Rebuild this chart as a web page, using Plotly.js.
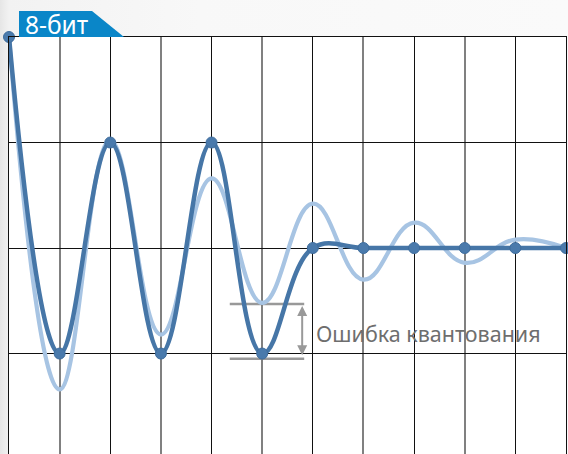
<!DOCTYPE html>
<html>
<head>
<meta charset="utf-8">
<script src="https://cdn.plot.ly/plotly-3.0.1.min.js"></script>
<style>
html,body{margin:0;padding:0;}
body{width:568px;height:454px;overflow:hidden;background:linear-gradient(to right,#e6e6e6 0px,#f2f2f2 9px,#f8f8f8 200px,#fafafa 568px);}
#chart{width:568px;height:454px;}
</style>
</head>
<body>
<div id="chart"></div>
<script>
// sample indices
var samples = [0, 1, 2, 3, 4, 5, 6, 7, 8, 9, 10, 11];
// quantized (8-bit) values
var quantized = [1.0, -0.5, 0.5, -0.5, 0.5, -0.5, 0, 0, 0, 0, 0, 0];
// original analog signal (extrema)
var analogX = [0, 1, 2, 3, 4, 5, 6, 7, 8, 9, 10, 11];
var analog = [1.0, -0.67, 0.51, -0.41, 0.33, -0.26, 0.21, -0.15, 0.12, -0.07, 0.04, 0.0];
var titleText = "8-бит";
var errorLabel = "Ошибка квантования";

var traces = [
  {x: analogX, y: analog, type: 'scatter', mode: 'lines',
   line: {shape: 'spline', smoothing: 1.2, color: '#a7c4e3', width: 4.2},
   cliponaxis: false, hoverinfo: 'skip'},
  {x: samples, y: quantized, type: 'scatter', mode: 'lines+markers',
   line: {shape: 'spline', smoothing: 1.15, color: '#4676a7', width: 4.5},
   marker: {size: 11, color: '#4a7aac', line: {color: '#3f6d9d', width: 1}},
   cliponaxis: false, hoverinfo: 'skip'}
];

var layout = {
  width: 568, height: 454,
  margin: {l: 9, r: 2, t: 37, b: 0, autoexpand: false},
  paper_bgcolor: 'rgba(0,0,0,0)',
  plot_bgcolor: '#ffffff',
  showlegend: false,
  font: {family: 'Noto Sans, Open Sans, sans-serif'},
  xaxis: {range: [0, 11], dtick: 2, tick0: 0, showgrid: true, gridcolor: '#111111', gridwidth: 1,
          minor: {dtick: 1, showgrid: true, gridcolor: '#808080', gridwidth: 2},
          showticklabels: false, ticks: '', zeroline: false,
          showline: true, linecolor: '#111111', linewidth: 1, mirror: true, fixedrange: true},
  yaxis: {range: [-0.976, 1.0], dtick: 0.5, tick0: 0, showgrid: true, gridcolor: '#111111', gridwidth: 1,
          showticklabels: false, ticks: '', zeroline: false,
          showline: true, linecolor: '#111111', linewidth: 1, mirror: true, fixedrange: true},
  shapes: [
    {type: 'path', xref: 'paper', yref: 'paper', layer: 'above',
     path: 'M 0.018 1.0 L 0.018 1.0624 L 0.149 1.0624 L 0.2065 1.0 Z',
     fillcolor: '#0a86c8', line: {width: 0}},
    {type: 'line', xref: 'x', yref: 'y', x0: 4.36, x1: 5.83, y0: -0.265, y1: -0.265,
     line: {color: '#999999', width: 2.5}, layer: 'below'},
    {type: 'line', xref: 'x', yref: 'y', x0: 4.36, x1: 5.83, y0: -0.525, y1: -0.525,
     line: {color: '#999999', width: 2.5}, layer: 'below'}
  ],
  annotations: [
    {xref: 'paper', yref: 'paper', x: 0.026, y: 1.031, xanchor: 'left', yanchor: 'middle',
     text: titleText, showarrow: false, font: {color: '#ffffff', size: 24.5, family: 'Noto Sans, sans-serif'}},
    {xref: 'x', yref: 'y', axref: 'x', ayref: 'y', x: 5.79, y: -0.275, ax: 5.79, ay: -0.515,
     text: '', showarrow: true, arrowside: 'end+start', arrowhead: 2, arrowsize: 1, arrowwidth: 2,
     arrowcolor: '#999999'},
    {xref: 'x', yref: 'y', x: 6.02, y: -0.403, xanchor: 'left', yanchor: 'middle',
     text: errorLabel, showarrow: false, font: {color: '#6e6e6e', size: 21.5, family: 'Noto Sans, sans-serif'}}
  ]
};

Plotly.newPlot('chart', traces, layout, {displayModeBar: false, staticPlot: true});
</script>
</body>
</html>
